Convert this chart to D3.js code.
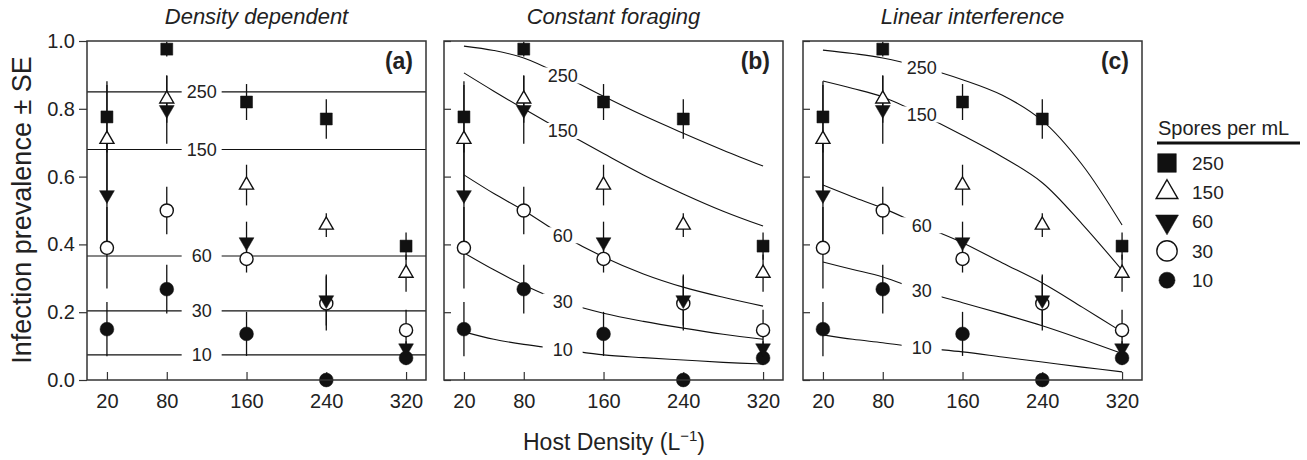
<!DOCTYPE html>
<html>
<head>
<meta charset="utf-8">
<script src="https://cdn.jsdelivr.net/npm/d3@7"></script>
<style>
  body { margin: 0; background: #fff; }
  text { font-family: "Liberation Sans", Arial, Helvetica, sans-serif; fill: #222; }
</style>
</head>
<body>
<script>
// spore levels (legend order) and host densities
var spores = [250, 150, 60, 30, 10];
var hostDensity = [20, 80, 160, 240, 320];

// observed infection prevalence and SE, one array per spore level
var prev250 = [0.776, 0.976, 0.82, 0.77, 0.395];
var se250   = [0.105, 0.022, 0.053, 0.058, 0.04];
var prev150 = [0.71, 0.829, 0.575, 0.457, 0.315];
var se150   = [0.16, 0.07, 0.06, 0.035, 0.055];
var prev60  = [0.546, 0.797, 0.407, 0.236, 0.094];
var se60    = [0.17, 0.10, 0.06, 0.075, 0.02];
var prev30  = [0.39, 0.50, 0.357, 0.226, 0.147];
var se30    = [0.12, 0.07, 0.04, 0.08, 0.06];
var prev10  = [0.15, 0.268, 0.136, 0.0, 0.065];
var se10    = [0.08, 0.072, 0.065, 0, 0.02];

// model fits
var ddFit = [0.85, 0.68, 0.366, 0.204, 0.074];   // density dependent (flat)
var fitDensity = [20, 50, 80, 120, 160, 200, 240, 280, 320];
var cf250 = [0.985, 0.972, 0.95, 0.897, 0.837, 0.78, 0.728, 0.678, 0.631];
var cf150 = [0.906, 0.852, 0.80, 0.733, 0.668, 0.605, 0.549, 0.498, 0.454];
var cf60  = [0.605, 0.55, 0.50, 0.425, 0.363, 0.313, 0.274, 0.244, 0.218];
var cf30  = [0.375, 0.325, 0.28, 0.23, 0.197, 0.173, 0.153, 0.135, 0.12];
var cf10  = [0.142, 0.12, 0.105, 0.09, 0.074, 0.066, 0.059, 0.052, 0.047];
var li250 = [0.973, 0.963, 0.95, 0.922, 0.886, 0.84, 0.765, 0.635, 0.457];
var li150 = [0.882, 0.86, 0.835, 0.782, 0.722, 0.658, 0.582, 0.46, 0.324];
var li60  = [0.575, 0.54, 0.507, 0.455, 0.405, 0.345, 0.286, 0.215, 0.142];
var li30  = [0.348, 0.326, 0.304, 0.262, 0.228, 0.195, 0.16, 0.12, 0.078];
var li10  = [0.133, 0.12, 0.11, 0.095, 0.083, 0.068, 0.053, 0.038, 0.024];

var panelTitles = ["Density dependent", "Constant foraging", "Linear interference"];
var panelTags = ["(a)", "(b)", "(c)"];
var yTicks = [0, 0.2, 0.4, 0.6, 0.8, 1.0];

var W = 1307, H = 460;
var plotTop = 41, plotBottom = 380, pw = 339;
var lefts = [87, 444, 803];
var labelAt = [115, 119, 119];

var svg = d3.select(document.body).append('svg')
  .attr('width', W).attr('height', H)
  .style('background', '#fff');

var x = d3.scaleLinear().domain([0, 340]).range([0, pw]);
var y = d3.scaleLinear().domain([0, 1]).range([plotBottom, plotTop]);

var prevs = [prev250, prev150, prev60, prev30, prev10];
var ses = [se250, se150, se60, se30, se10];
var series = spores.map(function(s, i) {
  return {
    spores: s,
    pts: hostDensity.map(function(h, j) { return {h: h, p: prevs[i][j], se: ses[i][j]}; })
  };
});

function toPts(arr) {
  return fitDensity.map(function(h, j) { return {h: h, p: arr[j]}; });
}
var fits = [
  ddFit.map(function(v) { return [{h: 0, p: v}, {h: 340, p: v}]; }),
  [cf250, cf150, cf60, cf30, cf10].map(toPts),
  [li250, li150, li60, li30, li10].map(toPts)
];

// marker shapes per spore level
function marker(sel, i, big) {
  var k = big ? 1.55 : 1;
  var defs = [
    {t: d3.symbolSquare, a: 144, fill: '#111'},
    {t: d3.symbolTriangle, a: 85, fill: '#fff'},
    {t: d3.symbolTriangle, a: 95, fill: '#111'},
    {t: d3.symbolCircle, a: 135, fill: '#fff'},
    {t: d3.symbolCircle, a: 150, fill: '#111'}
  ];
  var d = defs[i];
  var area = d.a * k * k;
  if (big && i == 4) area = d.a * 1.35;
  return sel.append('path')
    .attr('d', d3.symbol().type(d.t).size(area)())
    .attr('fill', d.fill)
    .attr('stroke', '#111')
    .attr('stroke-width', d.fill == '#fff' ? 1.4 : 0.5);
}

function interp(pts, h) {
  for (var j = 1; j < pts.length; j++) {
    if (h <= pts[j].h) {
      var a = pts[j - 1], b = pts[j];
      return a.p + (b.p - a.p) * (h - a.h) / (b.h - a.h);
    }
  }
  return pts[pts.length - 1].p;
}

var line = d3.line()
  .x(function(d) { return x(d.h); })
  .y(function(d) { return y(d.p); })
  .curve(d3.curveCatmullRom.alpha(0.5));

lefts.forEach(function(left, pi) {
  var g = svg.append('g').attr('transform', 'translate(' + left + ',0)');

  // title
  g.append('text')
    .attr('x', pw / 2).attr('y', 24)
    .attr('text-anchor', 'middle')
    .style('font-size', '22px').style('font-style', 'italic')
    .text(panelTitles[pi]);

  // axes
  var ya = g.append('g').call(
    d3.axisLeft(y).tickValues(yTicks)
      .tickSize(pi == 0 ? 8 : -7).tickPadding(4)
      .tickFormat(pi == 0 ? d3.format('.1f') : function() { return ''; }));
  ya.select('.domain').remove();
  ya.selectAll('line').attr('stroke', '#333').attr('stroke-width', 1.2);
  ya.selectAll('text').style('font-size', '20px').attr('fill', '#222');

  var xa = g.append('g').attr('transform', 'translate(0,' + plotBottom + ')')
    .call(d3.axisBottom(x).tickValues(hostDensity).tickSize(-8).tickPadding(14));
  xa.select('.domain').remove();
  xa.selectAll('line').attr('stroke', '#333').attr('stroke-width', 1.2);
  xa.selectAll('text').style('font-size', '20px').attr('fill', '#222');

  // model curves
  fits[pi].forEach(function(pts, i) {
    g.append('path').datum(pts)
      .attr('d', line)
      .attr('fill', 'none')
      .attr('stroke', '#111')
      .attr('stroke-width', 1.1);
    var lv = interp(pts, labelAt[pi]);
    g.append('rect')
      .attr('x', x(labelAt[pi]) - 20).attr('y', y(lv) - 8)
      .attr('width', 40).attr('height', 16)
      .attr('fill', '#fff');
    g.append('text')
      .attr('x', x(labelAt[pi])).attr('y', y(lv))
      .attr('dy', '0.36em')
      .attr('text-anchor', 'middle')
      .style('font-size', '18px')
      .text(spores[i]);
  });

  // error bars
  series.forEach(function(s) {
    g.selectAll(null).data(s.pts.filter(function(d) { return d.se > 0; }))
      .enter().append('line')
      .attr('x1', function(d) { return x(d.h); })
      .attr('x2', function(d) { return x(d.h); })
      .attr('y1', function(d) { return y(d.p - d.se); })
      .attr('y2', function(d) { return y(d.p + d.se); })
      .attr('stroke', '#111')
      .attr('stroke-width', 1.3);
  });

  // points, lowest spore level first so the higher ones sit on top
  for (var i = series.length - 1; i >= 0; i--) {
    series[i].pts.forEach(function(d) {
      var m = marker(g, i, false);
      m.attr('transform', 'translate(' + x(d.h) + ',' + y(d.p) + ')' + (i == 2 ? ' rotate(180)' : ''));
    });
  }

  // frame
  g.append('rect')
    .attr('x', 0).attr('y', plotTop)
    .attr('width', pw).attr('height', plotBottom - plotTop)
    .attr('fill', 'none')
    .attr('stroke', '#333')
    .attr('stroke-width', 1.5);

  // panel tag
  g.append('text')
    .attr('x', pw - 13).attr('y', 69)
    .attr('text-anchor', 'end')
    .style('font-size', '23px').style('font-weight', 'bold')
    .text(panelTags[pi]);
});

// axis titles
svg.append('text')
  .attr('transform', 'translate(31,' + 210 + ') rotate(-90)')
  .attr('text-anchor', 'middle')
  .style('font-size', '27px')
  .text('Infection prevalence \u00b1 SE');

var xt = svg.append('text')
  .attr('x', 614).attr('y', 450)
  .attr('text-anchor', 'middle')
  .style('font-size', '23px');
xt.append('tspan').text('Host Density (L');
xt.append('tspan').attr('dy', -9).style('font-size', '15px').text('\u22121');
xt.append('tspan').attr('dy', 9).text(')');

// legend
var lg = svg.append('g').attr('transform', 'translate(1158,0)');
lg.append('text').attr('x', 0).attr('y', 135).style('font-size', '20px').text('Spores per mL');
lg.append('line').attr('x1', -1).attr('x2', 142).attr('y1', 143).attr('y2', 143)
  .attr('stroke', '#111').attr('stroke-width', 3);
spores.forEach(function(s, i) {
  var cy = 163 + i * 29.3;
  var m = marker(lg, i, true);
  m.attr('transform', 'translate(9,' + cy + ')' + (i == 2 ? ' rotate(180)' : ''));
  lg.append('text').attr('x', 34).attr('y', cy).attr('dy', '0.36em')
    .style('font-size', '19px').text(s);
});
</script>
</body>
</html>
